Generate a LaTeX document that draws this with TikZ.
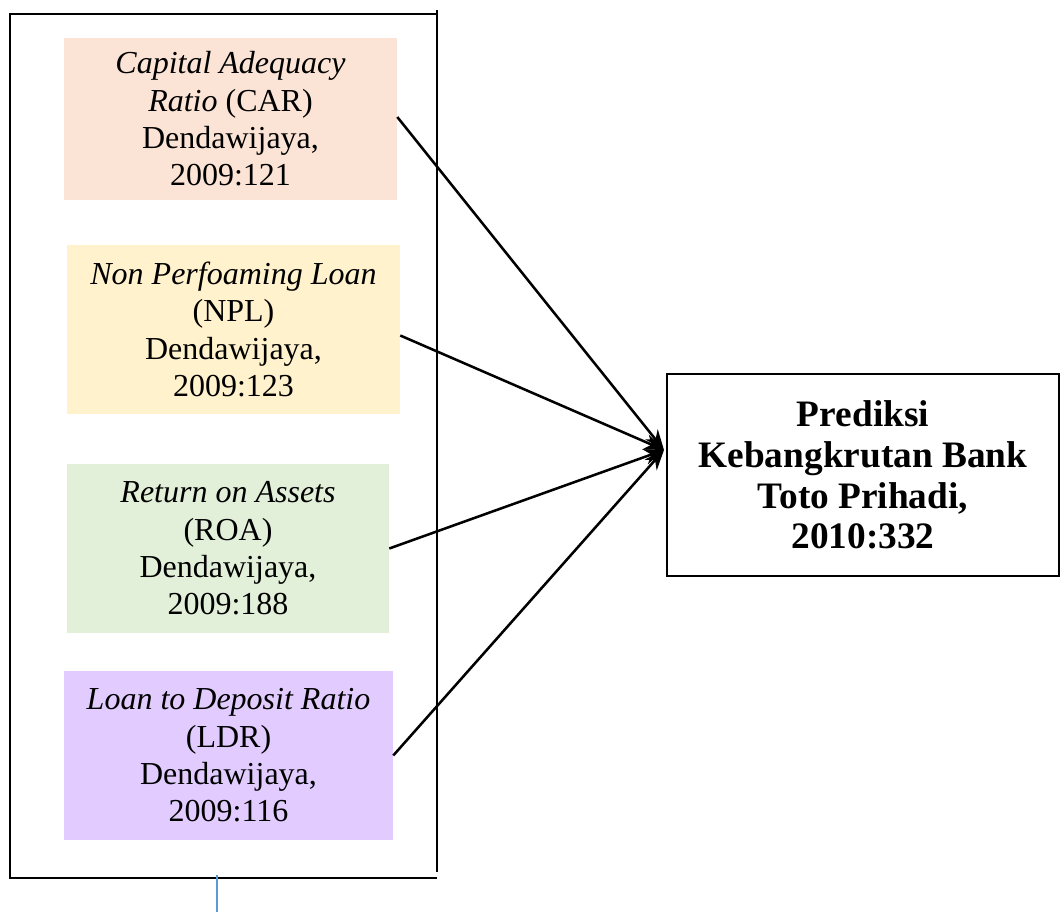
\documentclass[tikz,border=0pt]{standalone}
\usepackage{fontspec}
\setmainfont{Liberation Serif}
\usetikzlibrary{arrows.meta}
\definecolor{carfill}{HTML}{FBE4D5}
\definecolor{nplfill}{HTML}{FFF2CC}
\definecolor{roafill}{HTML}{E2EFD9}
\definecolor{ldrfill}{HTML}{E2CCFF}
\definecolor{bluel}{HTML}{5B9BD5}
\begin{document}
\begin{tikzpicture}[x=0.75pt,y=-0.75pt,
  varbox/.style={rectangle, draw=none, inner sep=0pt, align=center,
    font=\fontsize{24pt}{28pt}\selectfont},
  resbox/.style={rectangle, draw, line width=1.6pt, inner sep=0pt, align=center,
    font=\fontsize{28pt}{30.5pt}\selectfont\bfseries},
  frameline/.style={line width=1.9pt},
  conn/.style={line width=1.9pt, -{Stealth[length=15pt,width=12pt]}}]
\useasboundingbox (0,0) rectangle (1060,912);
% outer frame
\draw[frameline] (437,872) -- (437,10);
\draw[frameline] (437,14) -- (10,14) -- (10,878) -- (437,878);
\draw[bluel, line width=1pt] (217,875) -- (217,912);
% variable boxes
\node[varbox, fill=carfill, minimum width=333*0.75pt, minimum height=162*0.75pt] (car) at (230.5,119)
  {\textit{Capital Adequacy}\\ \textit{Ratio} (CAR)\\ Dendawijaya,\\ 2009:121};
\node[varbox, fill=nplfill, minimum width=333*0.75pt, minimum height=169*0.75pt] (npl) at (233.5,329.5)
  {\textit{Non Perfoaming Loan}\\ (NPL)\\ Dendawijaya,\\ 2009:123};
\node[varbox, fill=roafill, minimum width=322*0.75pt, minimum height=169*0.75pt] (roa) at (228,548.5)
  {\textit{Return on Assets}\\ (ROA)\\ Dendawijaya,\\ 2009:188};
\node[varbox, fill=ldrfill, minimum width=329*0.75pt, minimum height=169*0.75pt] (ldr) at (228.5,755.5)
  {\textit{Loan to Deposit Ratio}\\ (LDR)\\ Dendawijaya,\\ 2009:116};
% result box
\node[resbox, minimum width=392*0.75pt, minimum height=202*0.75pt] (res) at (863,475)
  {Prediksi\\ Kebangkrutan Bank\\ Toto Prihadi,\\ 2010:332};
\coordinate (tip) at (664,450);
% connectors
\draw[conn] ([yshift=1.5pt]car.east) -- (tip);
\draw[conn] ([yshift=-4.5pt]npl.east) -- (tip);
\draw[conn] (roa.east) -- (tip);
\draw[conn] (ldr.east) -- (tip);
\end{tikzpicture}
\end{document}
